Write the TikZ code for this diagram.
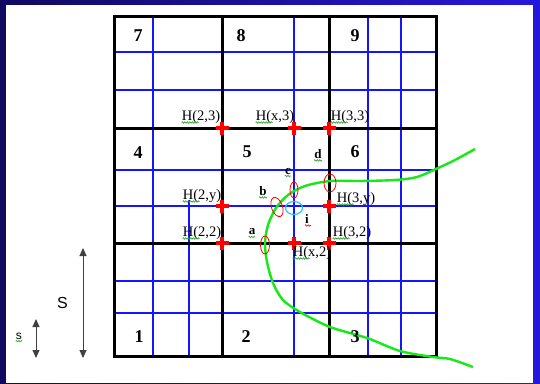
\documentclass[tikz,border=0pt]{standalone}
\usepackage{fontspec}
\setmainfont{Liberation Serif}
\newfontfamily\arialfont{Liberation Sans}
\usepackage{tikz}
\usetikzlibrary{positioning, shapes.geometric, arrows.meta, decorations.pathmorphing}
\definecolor{bgdark}{RGB}{16,10,96}
\definecolor{bgblue}{RGB}{38,24,220}
\definecolor{meshblue}{RGB}{20,20,255}
\definecolor{curvegreen}{RGB}{20,235,20}
\definecolor{ringcyan}{RGB}{40,200,255}
\definecolor{squiggreen}{RGB}{40,160,40}

\begin{document}
\begin{tikzpicture}[x=1pt, y=-1pt, >={Triangle[width=7pt,length=8pt]},
  hlabel/.style={inner sep=0pt, font=\fontsize{14.5}{15}\selectfont},
  cellnum/.style={inner sep=0pt, font=\fontsize{18}{18}\selectfont\bfseries},
  ptlabel/.style={inner sep=0pt, font=\fontsize{13}{13}\selectfont\bfseries},
  mesh/.style={draw=meshblue, line width=1.1pt},
  coarse/.style={draw=black, line width=3pt},
  hcross/.style={draw=red, line width=3.5pt},
  ring/.style={ellipse, draw=red, line width=0.8pt, inner sep=0pt},
  squig/.style={draw=squiggreen, line width=0.6pt, decorate,
    decoration={zigzag, segment length=2.5pt, amplitude=0.8pt}},
  size/.style={<->, draw=black!75, line width=1pt}]

  \useasboundingbox (0,0) rectangle (540,383);
  \shade[left color=bgdark, right color=bgblue] (0,0) rectangle (540,383);
  \fill[white] (6,5) rectangle (533,383);

  \foreach \my in {52,90,170,206,281,313}
    \draw[mesh] (114,\my) -- (436,\my);
  \foreach \mx in {153,294,368,401}
    \draw[mesh] (\mx,16) -- (\mx,356);
  \draw[mesh] (189,200) -- (189,356);

  \draw[coarse] (114,16) rectangle (436,356);
  \draw[coarse] (222,16) -- (222,356) (329,16) -- (329,356);
  \draw[coarse] (114,128) -- (436,128) (114,243) -- (436,243);

  \draw[curvegreen, line width=2.4pt] plot[smooth, tension=0.5] coordinates {
    (475,149) (455,160) (438,168) (417,177) (395,180) (360,181) (330,181)
    (305,186) (288,195) (276,208) (268,225) (265,243) (267,262) (273,283)
    (283,300) (300,312) (330,327) (367,338) (400,351) (433,357) (450,359) (473,367)};

  \foreach \cx/\cy in {222/128, 294/128, 329/128, 222/206, 329/206, 222/243, 294/243, 329/243}
    \draw[hcross] (\cx-6.5,\cy) -- (\cx+6.5,\cy) (\cx,\cy-6.5) -- (\cx,\cy+6.5);

  \node[ring, minimum width=9pt, minimum height=18pt] (ring-a) at (265,245) {};
  \node[ring, minimum width=11pt, minimum height=20pt, rotate=20] (ring-b) at (277,207) {};
  \node[ring, minimum width=8pt, minimum height=16pt] (ring-c) at (294,190) {};
  \node[ring, minimum width=12pt, minimum height=18pt] (ring-d) at (330,183) {};
  \node[ring, draw=ringcyan, line width=1.2pt, minimum width=17pt, minimum height=13pt] (ring-i) at (294,208) {};

  \node[cellnum] (num-7) at (138,36) {7};
  \node[cellnum] (num-8) at (241,36) {8};
  \node[cellnum] (num-9) at (355,36) {9};
  \node[cellnum] (num-4) at (138,153) {4};
  \node[cellnum] (num-5) at (247,152) {5};
  \node[cellnum] (num-6) at (355,152) {6};
  \node[cellnum] (num-1) at (139,337) {1};
  \node[cellnum] (num-2) at (246,337) {2};
  \node[cellnum] (num-3) at (355,337) {3};

  \node[hlabel] (h-23) at (201,117) {H(2,3)};
  \node[hlabel] (h-x3) at (275,117) {H(x,3)};
  \node[hlabel] (h-33) at (350,117) {H(3,3)};
  \node[hlabel] (h-2y) at (202,196) {H(2,y)};
  \node[hlabel] (h-3y) at (356,199) {H(3,y)};
  \node[hlabel] (h-22) at (202,233) {H(2,2)};
  \node[hlabel] (h-32) at (352,233) {H(3,2)};
  \node[hlabel] (h-x2) at (312,253) {H(x,2)};
  \foreach \hn in {h-23,h-x3,h-33,h-2y,h-3y,h-22,h-32,h-x2}
    \draw[squig] ([yshift=-2pt]\hn.base west) -- ++(17,0);

  \node[ptlabel] (lbl-a) at (252,232) {a};
  \node[ptlabel] (lbl-b) at (263,191) {b};
  \node[ptlabel] (lbl-c) at (288,171) {c};
  \node[ptlabel] (lbl-d) at (318,154) {d};
  \node[ptlabel] (lbl-i) at (307,219) {i};
  \foreach \ln in {lbl-a,lbl-b,lbl-c,lbl-d}
    \draw[squig] ([yshift=-2pt]\ln.base west) -- ([yshift=-2pt]\ln.base east);
  \draw[squig, draw=red] ([yshift=-2pt]lbl-i.base west) -- ([yshift=-2pt,xshift=2pt]lbl-i.base east);

  \coordinate (big-top) at (83,248);
  \coordinate (big-mid) at (83,303);
  \coordinate (big-bot) at (83,358);
  \coordinate (small-top) at (36,319);
  \coordinate (small-bot) at (36,358);
  \draw[size] (big-top) -- (big-bot);
  \draw[size] (small-top) -- (small-bot);
  \node[inner sep=0pt, font=\arialfont\fontsize{16}{16}\selectfont, left=15pt of big-mid] (big-s) {S};
  \node[inner sep=0pt, font=\arialfont\fontsize{12}{12}\selectfont] (small-s) at (19,336) {s};
  \draw[squig] ([yshift=-2pt]small-s.base west) -- ([yshift=-2pt]small-s.base east);

\end{tikzpicture}
\end{document}
